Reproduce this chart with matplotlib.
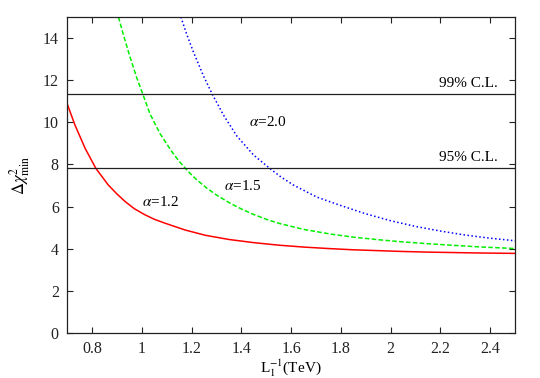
import numpy as np
import matplotlib.pyplot as plt

plt.rcParams['font.family'] = ['Liberation Serif', 'DejaVu Serif']
plt.rcParams['mathtext.fontset'] = 'stix'

# alpha = 1.2 (red, solid)
x12 = [0.70, 0.731, 0.772, 0.815, 0.865, 0.90, 0.933, 0.97, 1.013, 1.05, 1.094, 1.174,
       1.255, 1.35, 1.45, 1.55, 1.65, 1.75, 1.85, 1.95, 2.05, 2.15, 2.25, 2.35, 2.50]
y12 = [10.88, 9.88, 8.77, 7.82, 7.03, 6.60, 6.24, 5.90, 5.61, 5.40, 5.21, 4.89,
       4.64, 4.44, 4.29, 4.17, 4.08, 4.01, 3.95, 3.91, 3.87, 3.84, 3.82, 3.80, 3.78]

# alpha = 1.5 (green, dashed)
x15 = [0.906, 0.926, 0.950, 0.980, 1.004, 1.033, 1.073, 1.12, 1.15, 1.187, 1.22, 1.261,
       1.30, 1.355, 1.40, 1.449, 1.50, 1.55, 1.65, 1.757, 1.85, 1.95, 2.053, 2.15,
       2.254, 2.37, 2.50]
y15 = [15.0, 14.16, 13.2, 12.1, 11.34, 10.40, 9.47, 8.62, 8.15, 7.66, 7.28, 6.88,
       6.55, 6.16, 5.89, 5.63, 5.40, 5.21, 4.92, 4.70, 4.55, 4.43, 4.32, 4.24,
       4.16, 4.08, 4.01]

# alpha = 2.0 (blue, dotted)
x20 = [1.157, 1.18, 1.207, 1.248, 1.283, 1.328, 1.382, 1.449, 1.518, 1.56, 1.610,
       1.704, 1.80, 1.90, 2.00, 2.10, 2.20, 2.30, 2.40, 2.50]
y20 = [15.0, 14.2, 13.35, 12.2, 11.34, 10.35, 9.35, 8.45, 7.78, 7.40, 7.02,
       6.45, 6.05, 5.66, 5.33, 5.06, 4.84, 4.65, 4.50, 4.38]

cl99 = 11.34
cl95 = 7.82

fig = plt.figure(figsize=(5.4, 3.78), dpi=100)
ax = fig.add_axes([0.1244, 0.119, 0.8293, 0.836])

ax.plot(x12, y12, color='#ff0000', lw=1.1, ls='-')
ax.plot(x15, y15, color='#00ee00', lw=1.1, ls=(0, (3, 1.5)))
ax.plot(x20, y20, color='#0000ff', lw=1.1, ls=(0, (1, 1.6)))

ax.axhline(cl99, color='#222222', lw=0.9)
ax.axhline(cl95, color='#222222', lw=0.9)

ax.text(2.43, 11.83, '99% C.L.', ha='right', va='center', fontsize=11)
ax.text(2.43, 8.31, '95% C.L.', ha='right', va='center', fontsize=11)
ax.text(1.43, 10.0, r'$\alpha$=2.0', ha='left', va='center', fontsize=11)
ax.text(1.33, 6.98, r'$\alpha$=1.5', ha='left', va='center', fontsize=11)
ax.text(1.0, 6.2, r'$\alpha$=1.2', ha='left', va='center', fontsize=11)

ax.set_xlim(0.7, 2.5)
ax.set_ylim(0, 15)
ax.set_xticks([0.8, 1.0, 1.2, 1.4, 1.6, 1.8, 2.0, 2.2, 2.4])
ax.set_xticklabels(['0.8', '1', '1.2', '1.4', '1.6', '1.8', '2', '2.2', '2.4'])
ax.set_yticks([0, 2, 4, 6, 8, 10, 12, 14])
ax.tick_params(direction='in', top=True, right=True, labelsize=11.5, length=4,
               width=0.8, colors='#222222', pad=6)
for s in ax.spines.values():
    s.set_linewidth(0.9)
    s.set_color('#222222')

ax.set_xlabel(r'L$_1^{-1}$(TeV)', fontsize=11, labelpad=0)
ax.set_ylabel(r'$\Delta\chi^2_{\rm min}$', fontsize=12, labelpad=8)

fig.savefig('out.png', dpi=100)
